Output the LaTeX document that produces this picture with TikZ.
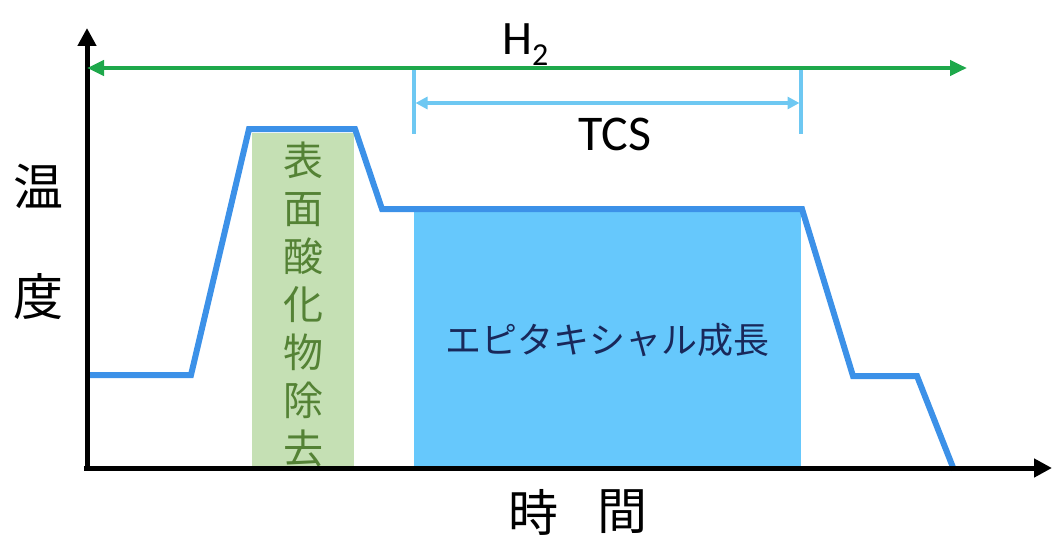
\documentclass[tikz,border=0pt]{standalone}
\usepackage{fontspec}
\setmainfont{Carlito}
\newfontfamily\jp{Noto Sans CJK JP}
\usetikzlibrary{arrows.meta}
\definecolor{profblue}{RGB}{60,145,232}
\definecolor{epiblue}{RGB}{102,200,252}
\definecolor{oxgreen}{RGB}{197,224,180}
\definecolor{oxtextc}{RGB}{84,130,53}
\definecolor{h2green}{RGB}{30,168,75}
\definecolor{tcsblue}{RGB}{110,200,242}
\definecolor{navy}{RGB}{25,40,90}
\tikzset{
  axisline/.style={line width=5pt,-{Triangle[width=18pt,length=18pt]}},
  profile/.style={line width=6pt,profblue,line join=miter,miter limit=4},
  h2arrow/.style={line width=4.5pt,h2green,{Triangle[width=15pt,length=17pt]}-{Triangle[width=15pt,length=17pt]}},
  tcsarrow/.style={line width=3.5pt,tcsblue,{Triangle[width=12pt,length=12pt]}-{Triangle[width=12pt,length=12pt]}},
  tcstick/.style={line width=3.5pt,tcsblue},
  oxbox/.style={fill=oxgreen,inner sep=0pt,minimum width=102pt,minimum height=333pt},
  epibox/.style={fill=epiblue,inner sep=0pt,minimum width=387pt,minimum height=254pt},
  bigjp/.style={font=\jp\fontsize{50}{50}\selectfont,inner sep=0pt},
}
\begin{document}
\begin{tikzpicture}[x=1pt,y=-1pt]
\useasboundingbox (0,0) rectangle (1052,535);
% boxes
\node[oxbox] (oxide) at (303,299.5) {};
\node[epibox] (epi) at (607.5,339) {};
\node[font=\jp\fontsize{40}{48}\selectfont,text=oxtextc,align=center,inner sep=0pt] (oxlabel) at (303,304) {表\\面\\酸\\化\\物\\除\\去};
\node[font=\jp\fontsize{36}{36}\selectfont,text=navy,inner sep=0pt] (epilabel) at (607,340) {エピタキシャル成長};
% temperature profile
\coordinate (p0) at (87,375);
\coordinate (p1) at (191,375);
\coordinate (p2) at (249,129);
\coordinate (p3) at (355,129);
\coordinate (p4) at (382,209);
\coordinate (p5) at (802,209);
\coordinate (p6) at (853,376);
\coordinate (p7) at (917,376);
\coordinate (p8) at (954,470);
\draw[profile] (p0) -- (p1) -- (p2) -- (p3) -- (p4) -- (p5) -- (p6) -- (p7) -- (p8);
% axes
\coordinate (origin) at (84,468);
\coordinate (ytop) at (87,28);
\coordinate (ybot) at (87,470.5);
\coordinate (xend) at (1052,468);
\draw[axisline] (ybot) -- (ytop);
\draw[axisline] (origin) -- (xend);
% H2 arrow
\coordinate (h2l) at (87,68);
\coordinate (h2r) at (967,68);
\draw[h2arrow] (h2l) -- (h2r);
\node[inner sep=0pt,font=\fontsize{48}{48}\selectfont,anchor=base west] (h2label) at (502,55) {H\raisebox{-11pt}{\fontsize{32}{32}\selectfont 2}};
% TCS
\coordinate (tl1) at (414,70);
\coordinate (tl2) at (414,134);
\coordinate (tr1) at (801,70);
\coordinate (tr2) at (801,134);
\draw[tcstick] (tl1) -- (tl2);
\draw[tcstick] (tr1) -- (tr2);
\coordinate (ta) at (415.5,103);
\coordinate (tb) at (799.5,103);
\draw[tcsarrow] (ta) -- (tb);
\node[inner sep=0pt,font=\fontsize{50}{50}\selectfont] (tcslabel) at (615,134) {TCS};
% axis labels
\node[bigjp] (on) at (38,186) {温};
\node[bigjp] (do) at (38,297) {度};
\node[bigjp] (ji) at (533,512) {時};
\node[bigjp] (kan) at (622,512) {間};
\end{tikzpicture}
\end{document}
